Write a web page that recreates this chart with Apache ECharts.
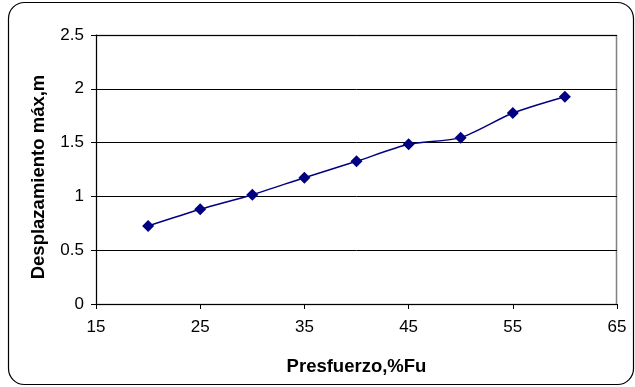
<!DOCTYPE html>
<html><head><meta charset="utf-8">
<script src="https://cdn.jsdelivr.net/npm/echarts@6/dist/echarts.min.js"></script>
<style>html,body{margin:0;padding:0;background:#fff}#c{width:635px;height:387px}</style>
</head><body><div id="c"></div>
<script>
const xValues = [20, 25, 30, 35, 40, 45, 50, 55, 60];
const yValues = [0.725, 0.88, 1.016, 1.174, 1.326, 1.484, 1.546, 1.775, 1.927];
const xTitle = 'Presfuerzo,%Fu';
const yTitle = 'Desplazamiento máx,m';

const chart = echarts.init(document.getElementById('c'), null, {renderer: 'canvas'});
const font = '"Liberation Sans", Arial, sans-serif';
chart.setOption({
  animation: false,
  backgroundColor: '#fff',
  graphic: [{
    type: 'rect', z: -1,
    shape: {x: 8.5, y: 2.5, width: 625, height: 382, r: 16},
    style: {fill: '#fff', stroke: '#000', lineWidth: 1.2}
  }, {
    type: 'rect', z: 0, silent: true,
    shape: {x: 96.5, y: 35.5, width: 520, height: 269},
    style: {fill: 'none', stroke: '#808080', lineWidth: 1.5}
  }],
  grid: {left: 96, right: 18, top: 35, bottom: 83, show: false},
  xAxis: {
    type: 'value', min: 15, max: 65, interval: 10,
    name: xTitle, nameLocation: 'middle', nameGap: 53,
    nameTextStyle: {fontFamily: font, fontWeight: 'bold', fontSize: 18.5, color: '#000'},
    axisLine: {show: true, lineStyle: {color: '#000', width: 1}},
    axisTick: {show: true, inside: false, length: 5, lineStyle: {color: '#000'}},
    axisLabel: {fontFamily: font, fontSize: 17, color: '#000', margin: 15},
    splitLine: {show: false}
  },
  yAxis: {
    type: 'value', min: 0, max: 2.5, interval: 0.5,
    name: yTitle, nameLocation: 'middle', nameGap: 48, nameRotate: 90,
    nameTextStyle: {fontFamily: font, fontWeight: 'bold', fontSize: 18.5, color: '#000', padding: [0, 15, 0, 0]},
    axisLine: {show: true, lineStyle: {color: '#000', width: 1}},
    axisTick: {show: true, inside: false, length: 5, lineStyle: {color: '#000'}},
    axisLabel: {fontFamily: font, fontSize: 17, color: '#000', margin: 12},
    splitLine: {show: true, lineStyle: {color: '#000', width: 1}}
  },
  series: [{
    type: 'line',
    data: xValues.map((x, i) => [x, yValues[i]]),
    smooth: 0.25,
    symbol: 'diamond', symbolSize: 12,
    itemStyle: {color: '#000080'},
    lineStyle: {color: '#000080', width: 1.5}
  }]
});
</script></body></html>
